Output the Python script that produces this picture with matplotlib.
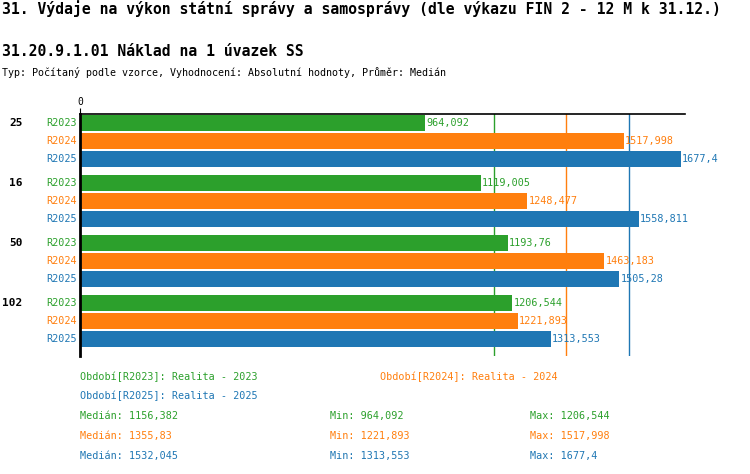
import matplotlib.pyplot as plt

groups = ["25", "16", "50", "102"]
series = ["R2023", "R2024", "R2025"]
colors = ["#2ca02c", "#ff7f0e", "#1f77b4"]
values = {
    "R2023": [964.092, 1119.005, 1193.76, 1206.544],
    "R2024": [1517.998, 1248.477, 1463.183, 1221.893],
    "R2025": [1677.4, 1558.811, 1505.28, 1313.553],
}
labels = {
    "R2023": ["964,092", "1119,005", "1193,76", "1206,544"],
    "R2024": ["1517,998", "1248,477", "1463,183", "1221,893"],
    "R2025": ["1677,4", "1558,811", "1505,28", "1313,553"],
}
medians = [1156.382, 1355.83, 1532.045]
stats = [("1156,382", "964,092", "1206,544"),
         ("1355,83", "1221,893", "1517,998"),
         ("1532,045", "1313,553", "1677,4")]

plt.rcParams['font.family'] = ['DejaVu Sans Mono']
W, H = 750, 474
fig = plt.figure(figsize=(7.5, 4.74), dpi=100)
ax = fig.add_axes([80 / W, 1 - 356 / H, 605 / W, 242 / H])
ax.set_xlim(0, 605 / 0.3583)
ax.set_ylim(356, 114)
for side in ["right", "bottom"]:
    ax.spines[side].set_visible(False)
ax.spines["top"].set_linewidth(1.2)
ax.spines["left"].set_linewidth(2)
ax.set_yticks([])
ax.set_xticks([0])
ax.xaxis.tick_top()
ax.tick_params(axis="x", length=4, labelsize=7, pad=1)

for m, c in zip(medians, colors):
    ax.axvline(m, color=c, lw=1, zorder=0)

for g, name in enumerate(groups):
    base = 122.5 + g * 60
    ax.text(-0.095, base, name, transform=ax.get_yaxis_transform(), ha="right",
            va="center", fontsize=8, fontweight="bold")
    for s, ser in enumerate(series):
        y = base + s * 18
        v = values[ser][g]
        ax.barh(y, v, height=16, color=colors[s], zorder=2)
        ax.text(-0.005, y, ser, transform=ax.get_yaxis_transform(), ha="right",
                va="center", fontsize=7.3, color=colors[s])
        ax.text(v + 3, y, labels[ser][g], ha="left", va="center", fontsize=7.3,
                color=colors[s], zorder=3)

def ft(x, y, s, **kw):
    fig.text(x / W, 1 - y / H, s, va="center", **kw)

ft(2, 9, "31. Výdaje na výkon státní správy a samosprávy (dle výkazu FIN 2 - 12 M k 31.12.)",
   fontsize=10.6, fontweight="bold")
ft(2, 51, "31.20.9.1.01 Náklad na 1 úvazek SS", fontsize=10.6, fontweight="bold")
ft(2, 73, "Typ: Počítaný podle vzorce, Vyhodnocení: Absolutní hodnoty, Průměr: Medián", fontsize=7.2)
ft(80, 377, "Období[R2023]: Realita - 2023", fontsize=7.3, color=colors[0])
ft(380, 377, "Období[R2024]: Realita - 2024", fontsize=7.3, color=colors[1])
ft(80, 396, "Období[R2025]: Realita - 2025", fontsize=7.3, color=colors[2])
for i, (md, mn, mx) in enumerate(stats):
    y = 416 + i * 20
    ft(80, y, "Medián: " + md, fontsize=7.3, color=colors[i])
    ft(330, y, "Min: " + mn, fontsize=7.3, color=colors[i])
    ft(530, y, "Max: " + mx, fontsize=7.3, color=colors[i])

fig.savefig("out.png", dpi=100)
